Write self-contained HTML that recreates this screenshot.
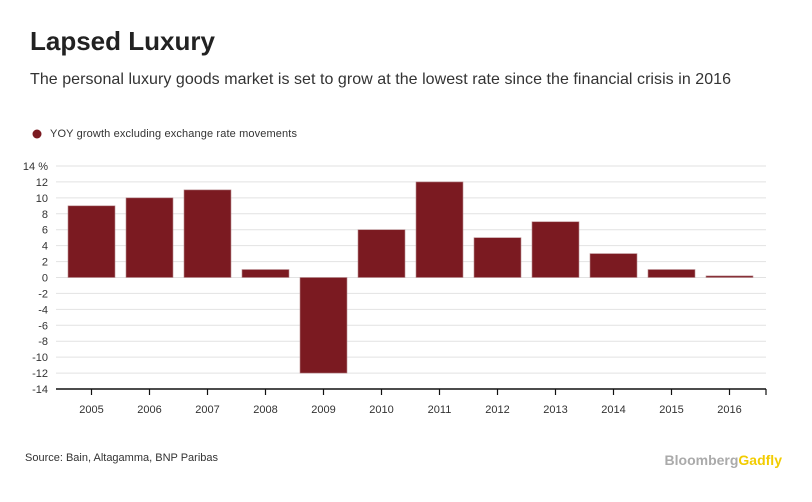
<!DOCTYPE html>
<html><head><meta charset="utf-8"><style>
body{margin:0;background:#fff;font-family:"Liberation Sans",sans-serif;}
svg text{font-family:"Liberation Sans",sans-serif;}
</style></head><body>
<svg width="812" height="497" xmlns="http://www.w3.org/2000/svg">
<text x="30" y="50" font-size="26" font-weight="bold" fill="#222">Lapsed Luxury</text>
<text x="30" y="84" font-size="16" textLength="701" fill="#333">The personal luxury goods market is set to grow at the lowest rate since the financial crisis in 2016</text>
<circle cx="37" cy="134" r="4.5" fill="#7b1a21"/>
<text x="50" y="137" font-size="11" textLength="247" fill="#333">YOY growth excluding exchange rate movements</text>
<g id="grid"></g><g id="bars"></g><g id="axis"></g>
<text x="25" y="461" font-size="11" textLength="193" fill="#333">Source: Bain, Altagamma, BNP Paribas</text>
<text x="782" y="465" font-size="14" font-weight="bold" text-anchor="end"><tspan fill="#aaa">Bloomberg</tspan><tspan fill="#f2cc00">Gadfly</tspan></text>
</svg>
<script>
const categories=["2005","2006","2007","2008","2009","2010","2011","2012","2013","2014","2015","2016"];
const values=[9,10,11,1,-12,6,12,5,7,3,1,0.2];
const yTicks=[14,12,10,8,6,4,2,0,-2,-4,-6,-8,-10,-12,-14];
const NS="http://www.w3.org/2000/svg";
const y=v=>277.5-(v*223/28);
const x=i=>91.5+i*58;
function mk(t,a,p){const e=document.createElementNS(NS,t);for(const k in a)e.setAttribute(k,a[k]);p.appendChild(e);return e;}
const g=document.getElementById('grid'),b=document.getElementById('bars'),ax=document.getElementById('axis');
yTicks.forEach(v=>{
 if(v!==-14){const l=mk('line',{x1:56,x2:766,y1:y(v),y2:y(v),stroke:'#e2e2e2','stroke-width':1},g);
 
 }
 const t=mk('text',{x:48,y:y(v)+4,'font-size':11,'text-anchor':'end',fill:'#333'},ax);
 t.textContent=v+(v===14?' %':'');
 
 
});
categories.forEach((c,i)=>{
 const v=values[i];const top=Math.min(y(v),y(0));const h=Math.max(Math.abs(y(v)-y(0)),1);
 const r=mk('rect',{x:x(i)-23.5,y:top,width:47,height:h,fill:'#7b1a21',stroke:'#b88a8e','stroke-width':0.6},b);
 
 
 const tk=mk('line',{x1:x(i),x2:x(i),y1:389,y2:395,stroke:'#111','stroke-width':1.2},ax);
 
 
 const t=mk('text',{x:x(i),y:413,'font-size':11,'text-anchor':'middle',fill:'#333'},ax);
 t.textContent=c;
 
 
});
const al=mk('line',{x1:56,x2:766,y1:389,y2:389,stroke:'#111','stroke-width':1.5},ax);


const et=mk('line',{x1:766,x2:766,y1:389,y2:395,stroke:'#111','stroke-width':1.2},ax);


</script>
</body></html>
